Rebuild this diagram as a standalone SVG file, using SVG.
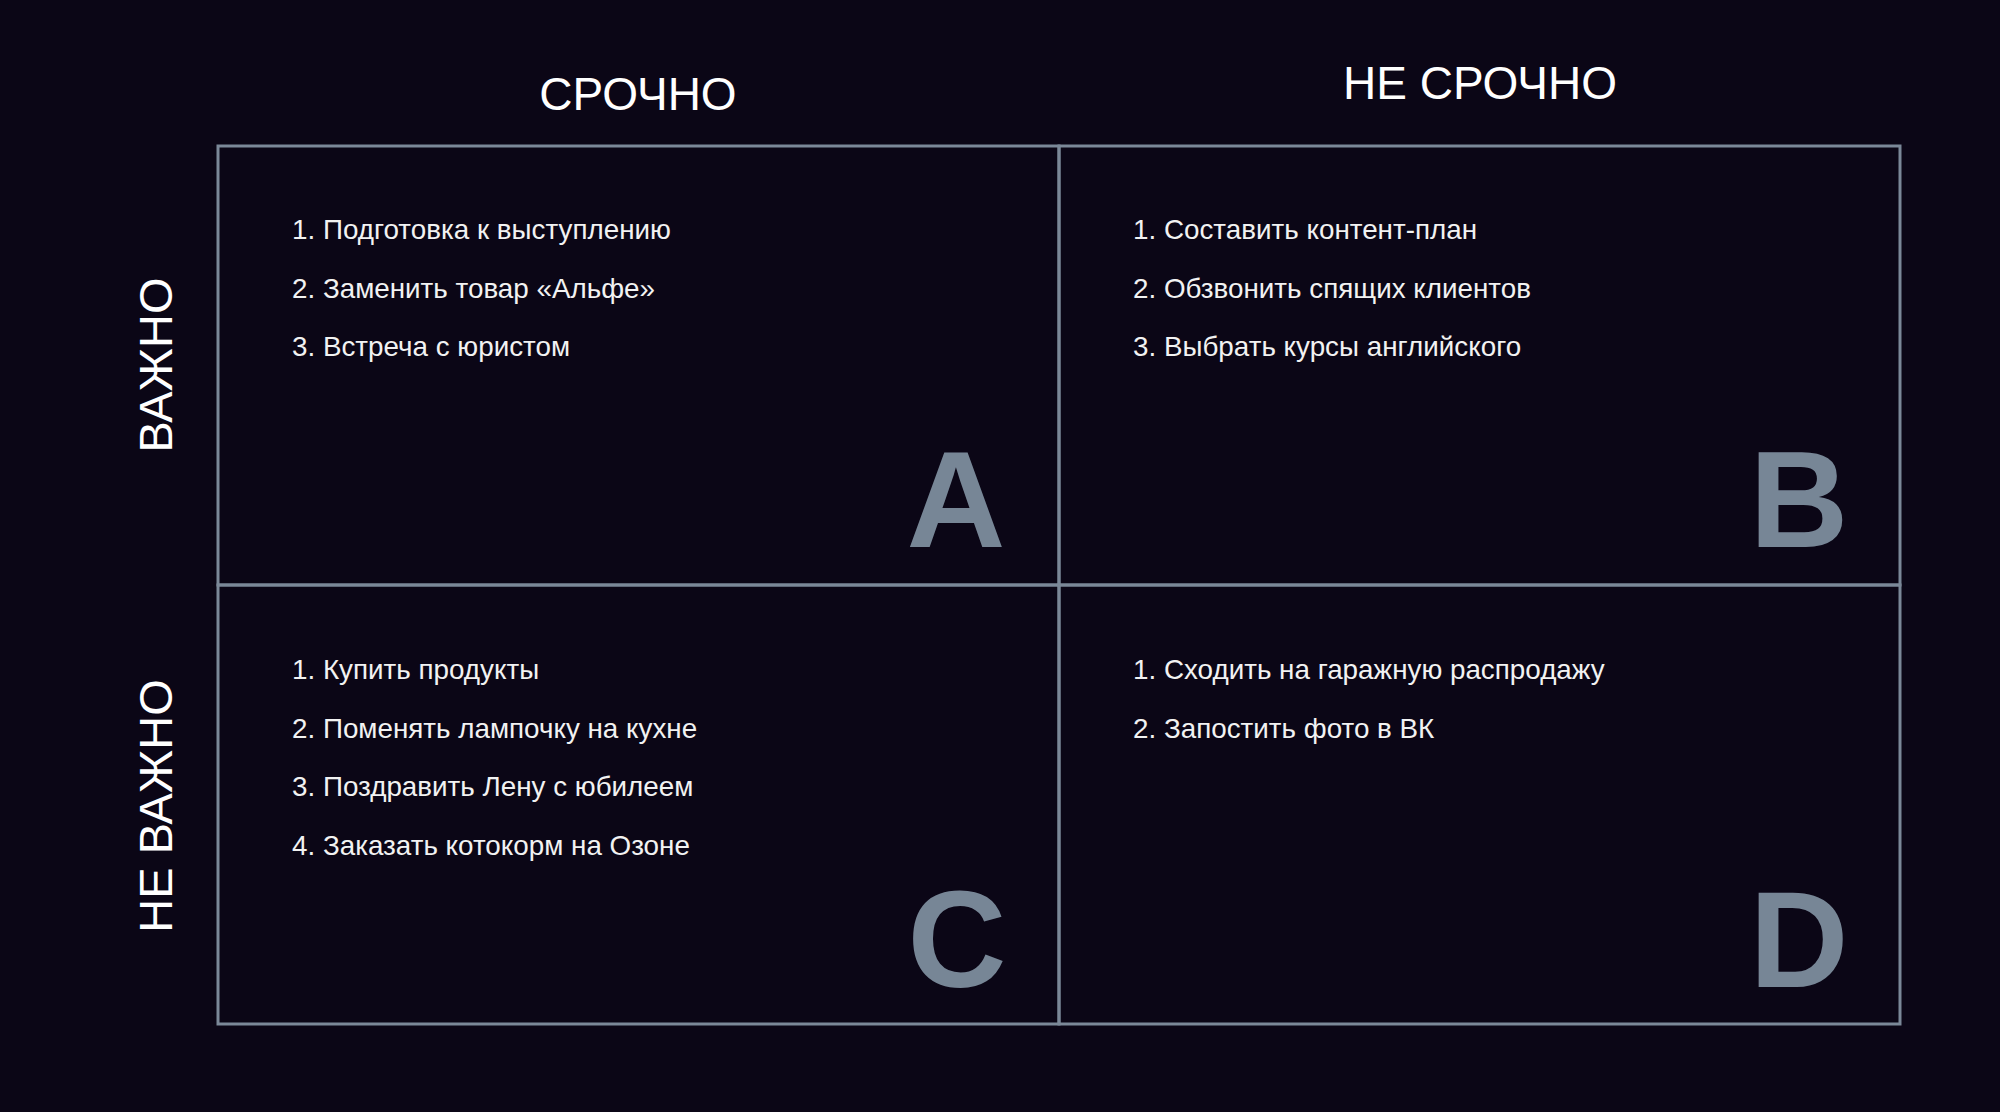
<svg xmlns="http://www.w3.org/2000/svg" width="2000" height="1112" viewBox="0 0 2000 1112">
<style>
.bg{fill:#0b0616}
.cell{fill:none;stroke:#7b8898;stroke-width:3}
.hdr{font-family:"Liberation Sans",Arial,sans-serif;font-size:46px;fill:#ffffff;text-anchor:middle}
.side{font-size:47px}
.item{font-family:"Liberation Sans",Arial,sans-serif;font-size:27.8px;fill:#f2f2f2}
.big{font-family:"Liberation Sans",Arial,sans-serif;font-size:137px;font-weight:bold;fill:#778696;text-anchor:middle}
</style>
<rect class="bg" x="0" y="0" width="2000" height="1112"/>
<g id="headers">
<text class="hdr" x="638" y="110">СРОЧНО</text>
<text class="hdr" x="1480" y="99">НЕ СРОЧНО</text>
<text class="hdr side" transform="translate(172,365) rotate(-90)">ВАЖНО</text>
<text class="hdr side" transform="translate(172,806) rotate(-90)">НЕ ВАЖНО</text>
</g>
<g id="quadrant-A">
<rect class="cell" x="218" y="146" width="841" height="439"/>
<text class="item" x="292" y="239">1. Подготовка к выступлению</text>
<text class="item" x="292" y="297.5">2. Заменить товар «Альфе»</text>
<text class="item" x="292" y="356">3. Встреча с юристом</text>
<text class="big" x="956" y="547">A</text>
</g>
<g id="quadrant-B">
<rect class="cell" x="1059" y="146" width="841" height="439"/>
<text class="item" x="1133" y="239">1. Составить контент-план</text>
<text class="item" x="1133" y="297.5">2. Обзвонить спящих клиентов</text>
<text class="item" x="1133" y="356">3. Выбрать курсы английского</text>
<text class="big" x="1799" y="547">B</text>
</g>
<g id="quadrant-C">
<rect class="cell" x="218" y="585" width="841" height="439"/>
<text class="item" x="292" y="679">1. Купить продукты</text>
<text class="item" x="292" y="737.5">2. Поменять лампочку на кухне</text>
<text class="item" x="292" y="796">3. Поздравить Лену с юбилеем</text>
<text class="item" x="292" y="854.5">4. Заказать котокорм на Озоне</text>
<text class="big" x="957" y="987">C</text>
</g>
<g id="quadrant-D">
<rect class="cell" x="1059" y="585" width="841" height="439"/>
<text class="item" x="1133" y="679">1. Сходить на гаражную распродажу</text>
<text class="item" x="1133" y="737.5">2. Запостить фото в ВК</text>
<text class="big" x="1799" y="987">D</text>
</g>
<g id="connectors"></g>
</svg>
